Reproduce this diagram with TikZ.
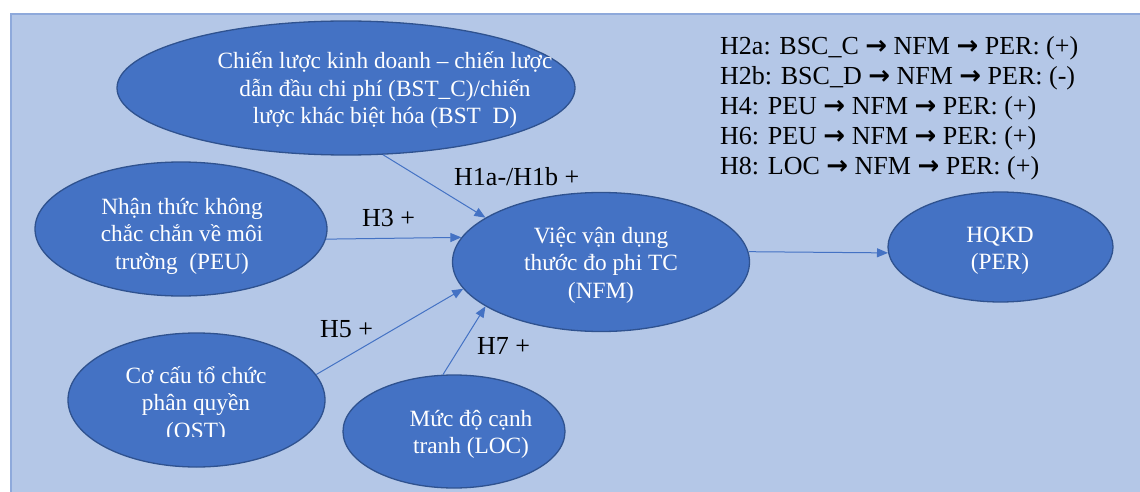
\documentclass[tikz,border=0pt]{standalone}
\usepackage{fontspec}
\setmainfont{Liberation Serif}
\newfontfamily\arrfont{DejaVu Sans}
\usetikzlibrary{shapes.geometric,arrows.meta}
\definecolor{bgfill}{HTML}{B4C7E7}
\definecolor{bgline}{HTML}{8EA9DB}
\definecolor{ellfill}{HTML}{4472C4}
\definecolor{elldraw}{HTML}{2F528F}
\definecolor{arrcol}{HTML}{4472C4}
\newcommand{\ra}{{\arrfont\bfseries →}}
\tikzset{
  ell/.style={ellipse, draw=elldraw, fill=ellfill, line width=1.3pt, inner sep=0pt},
  etxt/.style={text=white, font=\fontsize{23.3}{27.5}\selectfont, align=center, anchor=base, inner sep=0pt},
  lbl/.style={font=\fontsize{26}{30}\selectfont, anchor=base west, inner sep=0pt},
  arr/.style={draw=arrcol, line width=1pt, -{Triangle[length=11pt,width=9pt]}}
}
\begin{document}
\begin{tikzpicture}[x=1pt,y=-1pt]
\useasboundingbox (0,0) rectangle (1140,492);
\fill[bgfill] (10,13) rectangle (1150,500);
\draw[bgline, line width=2pt] (11,500) -- (11,14) -- (1150,14);

% ellipses
\node[ell, minimum width=458pt, minimum height=134pt] (bst) at (346,88) {};
\node[ell, minimum width=292pt, minimum height=134pt] (peu) at (181,229) {};
\node[ell, minimum width=297pt, minimum height=139pt] (nfm) at (601,262) {};
\node[ell, minimum width=225pt, minimum height=110pt] (per) at (1000.5,247) {};
\node[ell, minimum width=257pt, minimum height=134pt] (ost) at (196.5,400) {};
\node[ell, minimum width=222pt, minimum height=113pt] (loc) at (454,431.5) {};

% ellipse texts (base anchor = last line's baseline)
\node[etxt] (bsttxt) at (385,124) {Chiến lược kinh doanh – chiến lược\\dẫn đầu chi phí (BST\_C)/chiến\\lược khác biệt hóa (BST\hspace{0.5em}D)};
\node[etxt] (peutxt) at (182,269) {Nhận thức không\\chắc chắn về môi\\trường\ \ (PEU)};
\node[etxt] (nfmtxt) at (601,298) {Việc vận dụng\\thước đo phi TC\\(NFM)};
\node[etxt] (pertxt) at (1000,269.5) {HQKD\\(PER)};
\begin{scope}
\clip (0,0) rectangle (1140,436.5);
\node[etxt] (osttxt) at (196,438) {Cơ cấu tổ chức\\phân quyền\\(OST)};
\end{scope}
\node[etxt] (loctxt) at (471,453.5) {Mức độ cạnh\\tranh (LOC)};

% connectors
\draw[arr] (bst.-61) -- (nfm.159);
\draw[arr] (peu.-4) -- (nfm.170);
\draw[arr] (ost.12) -- (nfm.-169);
\draw[arr] (loc.101) -- (nfm.-159);
\draw[arr] (nfm.4) -- (per.183);

% labels
\node[lbl] (l1) at (454,185.5) {H1a-/H1b +};
\node[lbl] (l3) at (362,226) {H3 +};
\node[lbl] (l5) at (320,337) {H5 +};
\node[lbl] (l7) at (477,354) {H7 +};

% hypotheses list
\node[lbl] (h2a) at (720,55) {H2a: BSC\_C \ra{} NFM \ra{} PER: (+)};
\node[lbl] (h2b) at (720,85) {H2b: BSC\_D \ra{} NFM \ra{} PER: (-)};
\node[lbl] (h4) at (720,115) {H4: PEU \ra{} NFM \ra{} PER: (+)};
\node[lbl] (h6) at (720,145) {H6: PEU \ra{} NFM \ra{} PER: (+)};
\node[lbl] (h8) at (720,175) {H8: LOC \ra{} NFM \ra{} PER: (+)};
\end{tikzpicture}
\end{document}
